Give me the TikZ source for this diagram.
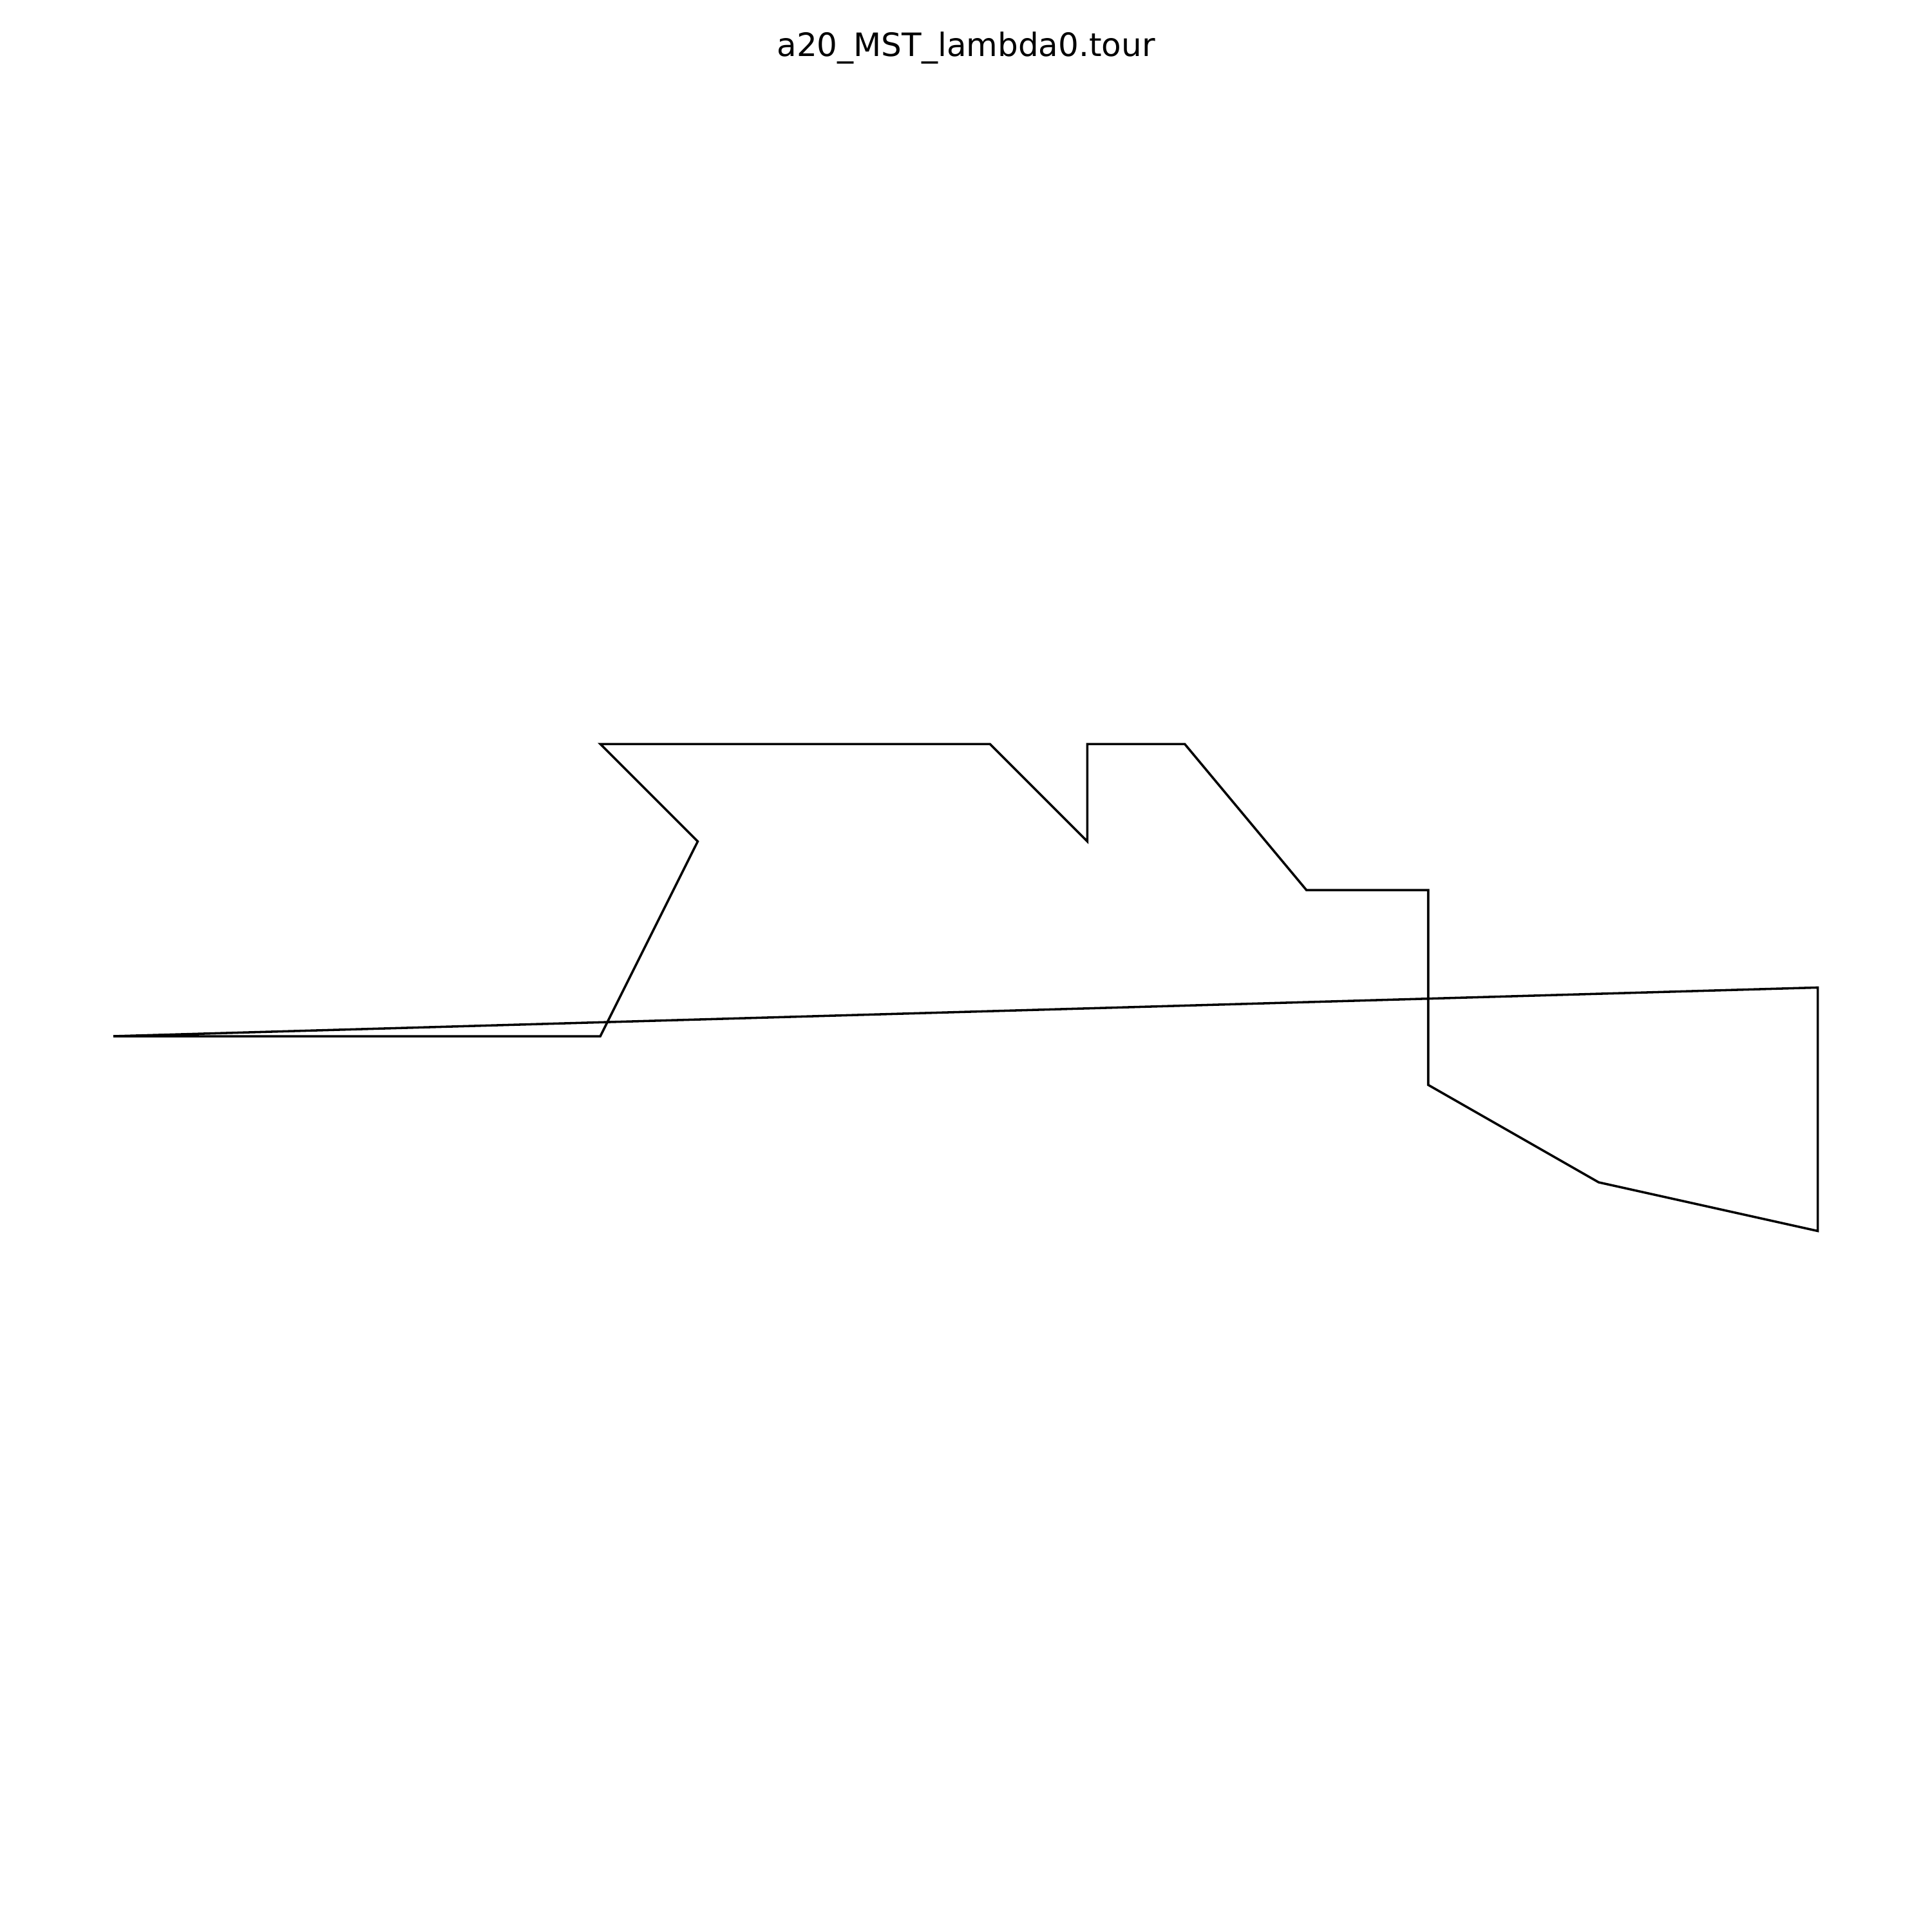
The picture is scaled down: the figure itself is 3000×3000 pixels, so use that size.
\documentclass[tikz,border=0pt]{standalone}
\usepackage{fontspec}
\setmainfont{DejaVu Sans}
\begin{document}
\begin{tikzpicture}[x=0.24pt,y=-0.24pt,
  tourline/.style={draw=black,line width=0.85pt,line join=miter},
  titletext/.style={font=\fontsize{12}{14}\selectfont,anchor=base,inner sep=0pt}]
\useasboundingbox (0,0) rectangle (3000,3000);
\def\s{75.62}
\coordinate (p1) at (176,1609);
\coordinate (p2) at ({176+10*\s},1609);
\coordinate (p3) at ({176+12*\s},{1155.3+2*\s});
\coordinate (p4) at ({176+10*\s},1155.3);
\coordinate (p5) at ({176+18*\s},1155.3);
\coordinate (p6) at ({176+20*\s},{1155.3+2*\s});
\coordinate (p7) at ({176+20*\s},1155.3);
\coordinate (p8) at ({176+22*\s},1155.3);
\coordinate (p9) at ({176+24.5*\s},{1155.3+3*\s});
\coordinate (p10) at ({176+27*\s},{1155.3+3*\s});
\coordinate (p11) at ({176+27*\s},{1155.3+7*\s});
\coordinate (p12) at ({176+30.5*\s},{1155.3+9*\s});
\coordinate (p13) at ({176+35*\s},{1155.3+10*\s});
\coordinate (p14) at ({176+35*\s},{1155.3+5*\s});
\draw[tourline] (p1) -- (p2) -- (p3) -- (p4) -- (p5) -- (p6) -- (p7) -- (p8) -- (p9) -- (p10) -- (p11) -- (p12) -- (p13) -- (p14) -- cycle;
\node[titletext] (title) at (1500,87) {a20\_MST\_lambda0.tour};
\end{tikzpicture}
\end{document}
